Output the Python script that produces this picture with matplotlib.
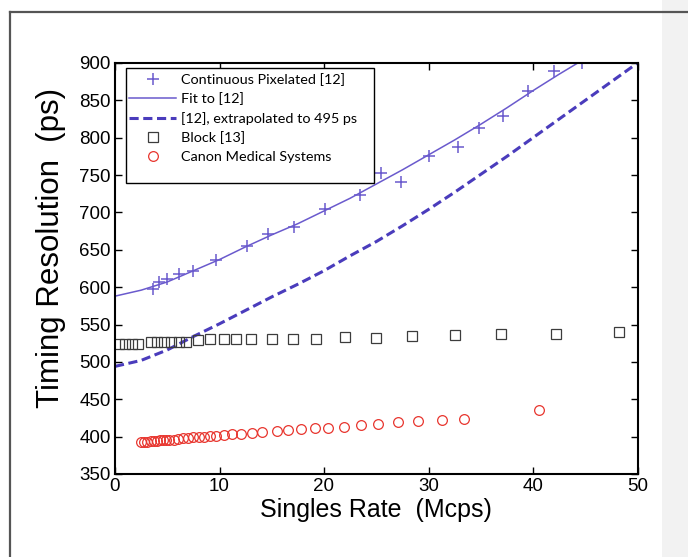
import matplotlib
matplotlib.use("Agg")
import matplotlib.pyplot as plt
from matplotlib.lines import Line2D
from matplotlib.patches import Rectangle

# Continuous pixelated detector [12]
pix_rate = [3.6, 4.2, 5.0, 6.1, 7.5, 9.7, 12.6, 14.6, 17.1, 20.1, 23.4, 25.5,
            27.4, 30.0, 32.8, 34.8, 37.1, 39.5, 42.0, 44.7]
pix_res = [598, 607, 611, 617, 622, 636, 655, 671, 680, 704, 723, 753,
           741, 776, 788, 813, 829, 863, 889, 900]

# fit to [12] and the same curve extrapolated down to 495 ps at zero rate
fit_rate = [0, 2.5, 5, 7.5, 10, 12.5, 15, 17.5, 20, 22.5, 25, 27.5, 30,
            32.5, 35, 37.5, 40, 42.5, 45]
fit_res = [588, 596, 607, 622, 637, 654, 670, 685, 702, 719, 738, 757, 777,
           797, 818, 840, 863, 885, 906]
extrap_rate = [0, 2.5, 5, 7.5, 10, 12.5, 15, 17.5, 20, 22.5, 25, 27.5, 30,
               32.5, 35, 37.5, 40, 42.5, 45, 47.5, 50]
extrap_res = [494, 502, 516, 534, 551, 569, 587, 604, 622, 642, 661, 682,
              704, 727, 751, 775, 800, 825, 850, 875, 900]

# block detector [13]
block_rate = [0.4, 1.0, 1.6, 2.2, 3.4, 4.0, 4.7, 5.4, 6.1, 6.8, 7.9, 9.1,
              10.4, 11.6, 13.0, 15.0, 17.0, 19.2, 22.0, 25.0, 28.4, 32.5,
              36.9, 42.2, 48.2]
block_res = [524, 524, 524, 524, 527, 527, 527, 527, 527, 527, 529, 530,
             530, 531, 531, 530, 531, 531, 533, 532, 535, 536, 538, 538, 540]

# Canon Medical Systems
canon_rate = [2.5, 2.8, 3.1, 3.4, 3.7, 4.0, 4.3, 4.6, 4.9, 5.2, 5.6, 6.0,
              6.5, 7.0, 7.5, 8.0, 8.5, 9.1, 9.7, 10.4, 11.2, 12.1, 13.1,
              14.1, 15.5, 16.6, 17.8, 19.1, 20.4, 21.9, 23.5, 25.2, 27.1,
              29.0, 31.3, 33.4, 40.6]
canon_res = [393, 393, 393, 394, 394, 394, 395, 395, 395, 396, 396, 397,
             398, 398, 399, 399, 400, 401, 401, 402, 403, 403, 405, 406,
             407, 409, 410, 411, 412, 413, 415, 417, 419, 421, 422, 424, 436]

legend_labels = ["Continuous Pixelated [12]", "Fit to [12]",
                 "[12], extrapolated to 495 ps", "Block [13]",
                 "Canon Medical Systems"]

PURPLE = "#6a5acd"
DASH = "#4a3cbc"
RED = "#e8352e"
GREY = "#3c3c3c"

plt.rcParams["font.family"] = ["Liberation Sans", "DejaVu Sans"]

fig = plt.figure(figsize=(6.88, 5.57), dpi=100)
fig.patch.set_facecolor("white")
# grey strip on the right and the frame line at top/left
fig.patches.append(Rectangle((662 / 688, 0), 1, 1, transform=fig.transFigure,
                             facecolor="#f2f2f2", edgecolor="none", zorder=0))
fig.add_artist(Line2D([10 / 688, 10 / 688], [0, 1 - 12 / 557],
                      transform=fig.transFigure, color="#555555", lw=1.6))
fig.add_artist(Line2D([10 / 688, 1], [1 - 12 / 557, 1 - 12 / 557],
                      transform=fig.transFigure, color="#555555", lw=1.6))

ax = fig.add_axes([115 / 688, 83 / 557, 522.5 / 688, 411 / 557])

ax.plot(pix_rate, pix_res, "+", color=PURPLE, ms=9, mew=1.1, label=legend_labels[0])
ax.plot(fit_rate, fit_res, "-", color=PURPLE, lw=1.1, label=legend_labels[1])
ax.plot(extrap_rate, extrap_res, "--", color=DASH, lw=2.2, dashes=(3, 1.5),
        label=legend_labels[2])
ax.plot(block_rate, block_res, "s", mfc="none", mec=GREY, ms=7.5, mew=0.9,
        label=legend_labels[3])
ax.plot(canon_rate, canon_res, "o", mfc="none", mec=RED, ms=7, mew=0.9,
        label=legend_labels[4])

ax.set_xlim(0, 50)
ax.set_ylim(350, 900)
ax.set_xticks(range(0, 51, 10))
ax.set_yticks(range(350, 901, 50))
ax.tick_params(direction="in", length=5, width=1, top=True, right=True,
               labelsize=13.5, pad=3)
for sp in ax.spines.values():
    sp.set_linewidth(1.5)

ax.set_xlabel("Singles Rate  (Mcps)", fontsize=18, labelpad=2)
ax.set_ylabel("Timing Resolution  (ps)", fontsize=22.5)
ax.yaxis.set_label_coords(-0.094, 0.55)

leg = ax.legend(loc="upper left", bbox_to_anchor=(0.022, 0.982), frameon=False,
                prop={"family": "Lato", "size": 10.4}, handlelength=3.25,
                handletextpad=0.35, labelspacing=0.44, borderpad=0.2,
                borderaxespad=0)
ax.add_patch(Rectangle((11 / 522.5, 291 / 411), 248 / 522.5, 115 / 411,
                       transform=ax.transAxes, facecolor="white",
                       edgecolor="black", lw=1.0, zorder=4))
leg.set_zorder(5)

fig.savefig("out.png", dpi=100)
